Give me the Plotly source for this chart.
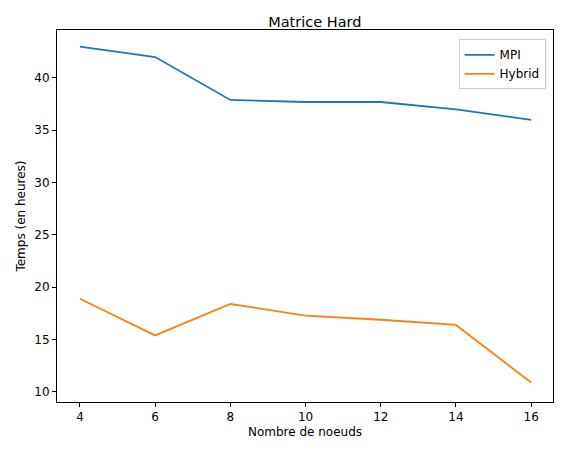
import plotly.graph_objects as go

noeuds = [4, 6, 8, 10, 12, 14, 16]
mpi = [43.0, 42.0, 37.9, 37.7, 37.7, 37.0, 36.0]
hybrid = [18.9, 15.4, 18.4, 17.3, 16.9, 16.4, 10.9]

fig = go.Figure()
fig.add_trace(go.Scatter(x=noeuds, y=mpi, mode='lines', name='MPI', line=dict(color='#1f77b4', width=1.8)))
fig.add_trace(go.Scatter(x=noeuds, y=hybrid, mode='lines', name='Hybrid', line=dict(color='#ff7f0e', width=1.8)))

axe = dict(showgrid=False, zeroline=False, showline=True, linecolor='black', mirror=True,
           ticks='outside', ticklen=4, tickcolor='black', tickfont=dict(size=12, color='black'))

# la page ajoute ~8px de marge, on compense
fig.update_layout(
    width=563, height=453,
    margin=dict(l=49, r=18, t=22, b=59),
    plot_bgcolor='white', paper_bgcolor='white',
    font=dict(family='DejaVu Sans', color='black'),
    title=dict(text='Matrice Hard', x=0.545, xanchor='center', y=0.98, yanchor='top', font=dict(size=14.5)),
    xaxis=dict(axe, range=[3.39, 16.58], tickvals=[4, 6, 8, 10, 12, 14, 16],
               title=dict(text='Nombre de noeuds', font=dict(size=12), standoff=4)),
    yaxis=dict(axe, range=[9.04, 44.58], tickvals=[10, 15, 20, 25, 30, 35, 40],
               title=dict(text='Temps (en heures)', font=dict(size=12), standoff=6)),
    legend=dict(x=0.985, y=0.975, xanchor='right', yanchor='top', bordercolor='#cccccc',
                borderwidth=1, bgcolor='white', font=dict(size=12)),
)

fig.write_html("out.html")
